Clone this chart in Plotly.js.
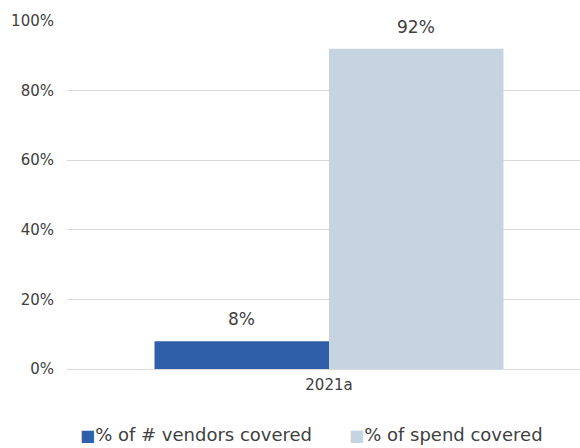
<!DOCTYPE html>
<html>
<head>
<meta charset="utf-8">
<script src="https://cdn.plot.ly/plotly-3.0.1.min.js"></script>
<style>html,body{margin:0;padding:0;background:#fff;}#chart{width:580px;height:448px;}</style>
</head>
<body>
<div id="chart"></div>
<script>
const categories = ["2021a"];
const seriesNames = ["% of # vendors covered", "% of spend covered"];
const seriesColors = ["#2e5fa8", "#c6d4e1"];
const vendorsCovered = [0.08];
const spendCovered = [0.92];
const tickVals = [0, 0.2, 0.4, 0.6, 0.8, 1.0];
const tickText = ["0%", "20%", "40%", "60%", "80%", "100%"];

const FONT = "DejaVu Sans, Open Sans, sans-serif";
const TXT = "#404040";
const BARGAP = 0.334;
const seriesValues = [vendorsCovered, spendCovered];

const traces = seriesValues.map((vals, i) => ({
  type: "bar", name: seriesNames[i], x: categories, y: vals,
  marker: {color: seriesColors[i]}, showlegend: false
}));

// data labels placed above each bar (group offsets derived from bargap)
const groupW = 1 - BARGAP;
const nS = seriesValues.length;
const annotations = [];
seriesValues.forEach((vals, i) => {
  vals.forEach((v, j) => {
    annotations.push({
      x: j - groupW/2 + groupW/nS*(i + 0.5), y: v, xref: "x", yref: "y",
      text: Math.round(v*100) + "%", showarrow: false,
      yanchor: "bottom", yshift: 10,
      font: {family: FONT, size: 17, color: TXT}
    });
  });
});

// legend drawn as text entries
const legendX = [0.135, 0.598];
seriesNames.forEach((name, i) => {
  annotations.push({
    xref: "paper", yref: "paper", x: 0, y: 0,
    text: '<span style="color:' + seriesColors[i] + ';font-size:16px">■</span>' + name,
    showarrow: false, xanchor: "left", yanchor: "middle",
    font: {family: FONT, size: 18, color: TXT},
    xshift: legendX[i]*580 - 67, yshift: -(434 - 369)
  });
});

const layout = {
  width: 580, height: 448,
  margin: {l: 67, r: 0, t: 21, b: 79},
  paper_bgcolor: "#fff", plot_bgcolor: "#fff",
  font: {family: FONT, size: 15, color: TXT},
  barmode: "group", bargap: BARGAP, bargroupgap: 0,
  showlegend: false,
  annotations: annotations,
  xaxis: {
    type: "category", range: [-0.5, 0.479],
    showgrid: false, showline: false, zeroline: false,
    ticks: "", ticklabelstandoff: 5,
    tickfont: {family: FONT, size: 15, color: TXT}
  },
  yaxis: {
    range: [0, 1.0], tickvals: tickVals, ticktext: tickText,
    showgrid: true, gridcolor: "#d9d9d9", gridwidth: 1,
    zeroline: true, zerolinecolor: "#d9d9d9", zerolinewidth: 1,
    showline: false, ticks: "", ticklabelstandoff: 12,
    tickfont: {family: FONT, size: 15, color: TXT}
  }
};

Plotly.newPlot("chart", traces, layout, {displayModeBar: false, staticPlot: true});
</script>
</body>
</html>
